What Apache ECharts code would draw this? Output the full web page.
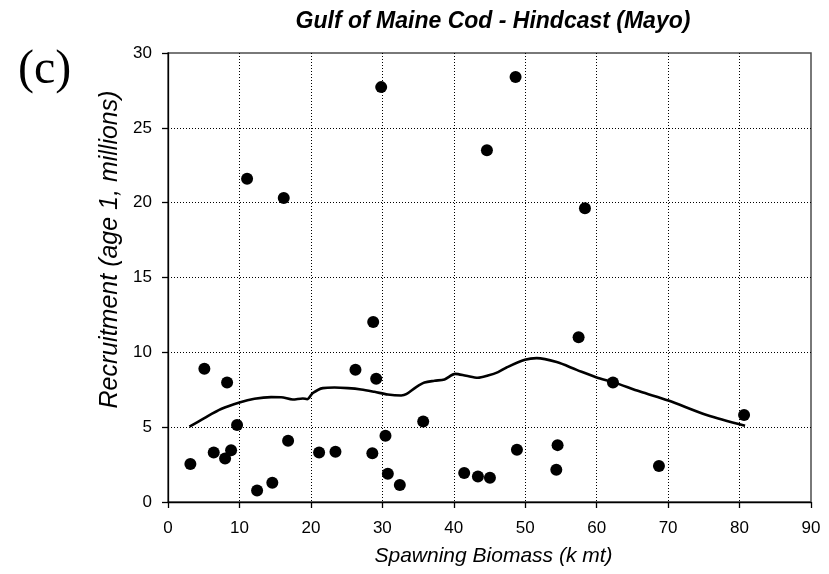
<!DOCTYPE html>
<html>
<head>
<meta charset="utf-8">
<title>Gulf of Maine Cod - Hindcast (Mayo)</title>
<script src="https://cdn.jsdelivr.net/npm/echarts@6/dist/echarts.min.js"></script>
<style>
  html, body { margin: 0; padding: 0; background: #fff; }
  #chart { width: 829px; height: 574px; }
</style>
</head>
<body>
<div id="chart"></div>
<script>
// observed stock / recruitment pairs
const biomass = [3.13, 5.09, 6.40, 7.99, 8.27, 8.83, 9.67, 11.07, 12.47, 14.60, 16.20, 16.81,
  21.15, 23.44, 26.24, 28.60, 28.72, 29.14, 29.84, 30.44, 30.77, 32.45, 35.72, 41.46,
  43.38, 44.64, 45.06, 48.65, 48.84, 54.35, 54.53, 57.47, 58.36, 62.28, 68.72, 80.63]
const recruits = [2.54, 8.90, 3.31, 2.91, 7.98, 3.45, 5.14, 21.60, 0.77, 1.29, 20.31, 4.09,
  3.31, 3.36, 8.83, 3.25, 12.02, 8.23, 27.72, 4.43, 1.89, 1.13, 5.38, 1.94,
  1.71, 23.50, 1.62, 28.39, 3.49, 2.16, 3.80, 11.01, 19.63, 7.98, 2.40, 5.81]

// smoothed fit
const fitX = [3.0, 5.09, 7.43, 10.0, 12.1, 14.43, 15.83, 17.46, 18.86, 19.47, 20.27, 21.67,
  23.3, 25.17, 27.03, 28.9, 30.77, 32.64, 33.34, 34.74, 35.9, 37.3, 38.7, 40.2, 41.74,
  43.37, 44.78, 46.2, 47.39, 49.96, 51.6, 54.4, 57.2, 60.0, 62.33, 66.07, 70.03, 75.4, 80.77]
const fitY = [5.03, 5.61, 6.21, 6.65, 6.90, 7.01, 7.00, 6.85, 6.92, 6.87, 7.28, 7.61,
  7.65, 7.61, 7.52, 7.36, 7.18, 7.12, 7.20, 7.68, 7.98, 8.10, 8.19, 8.56, 8.43,
  8.30, 8.45, 8.68, 8.99, 9.50, 9.61, 9.35, 8.83, 8.32, 8.01, 7.38, 6.78, 5.81, 5.09]

const xTicks = [0, 90, 10]  // min, max, step
const yTicks = [0, 30, 5]

const font = 'Liberation Sans, Arial, sans-serif'

const chart = echarts.init(document.getElementById('chart'))

const gridLine = {
  show: true,
  showMinLine: false,
  showMaxLine: false,
  lineStyle: { color: '#000', width: 1, type: [1, 2] }
}

const option = {
  animation: false,
  graphic: [
    {
      type: 'text',
      style: {
        text: '(c)', x: 18, y: 70,
        font: '48px "Liberation Serif", "Times New Roman", serif',
        fill: '#000', textVerticalAlign: 'middle'
      }
    },
    {
      type: 'text',
      style: {
        text: 'Gulf of Maine Cod - Hindcast (Mayo)', x: 493, y: 22,
        font: 'italic bold 23px ' + font,
        fill: '#000', textAlign: 'center', textVerticalAlign: 'middle'
      }
    }
  ],
  grid: {
    left: 168, right: 18, top: 53, bottom: 72,
    show: true, borderColor: '#4d4d4d', borderWidth: 1.5
  },
  xAxis: {
    type: 'value',
    min: xTicks[0], max: xTicks[1], interval: xTicks[2],
    name: 'Spawning Biomass (k mt)',
    nameLocation: 'middle',
    nameGap: 44,
    nameTextStyle: { fontFamily: font, fontSize: 21, fontStyle: 'italic', color: '#000', padding: [0, 0, 0, 8] },
    axisLine: { lineStyle: { color: '#000', width: 1.3 } },
    axisTick: { length: 6, lineStyle: { color: '#000', width: 1.3 } },
    axisLabel: { fontFamily: font, fontSize: 17, color: '#000', margin: 18 },
    splitLine: gridLine
  },
  yAxis: {
    type: 'value',
    min: yTicks[0], max: yTicks[1], interval: yTicks[2],
    name: 'Recruitment (age 1, millions)',
    nameLocation: 'middle',
    nameGap: 39,
    nameTextStyle: { fontFamily: font, fontSize: 25, fontStyle: 'italic', color: '#000', padding: [0, 0, 0, 56] },
    axisLine: { show: true, lineStyle: { color: '#000', width: 1.3 } },
    axisTick: { show: true, length: 6, lineStyle: { color: '#000', width: 1.3 } },
    axisLabel: { fontFamily: font, fontSize: 17, color: '#000', margin: 16 },
    splitLine: gridLine
  },
  series: [
    {
      type: 'line',
      data: fitX.map((x, i) => [x, fitY[i]]),
      showSymbol: false,
      smooth: 0.3,
      lineStyle: { color: '#000', width: 2.6 }
    },
    {
      type: 'scatter',
      data: biomass.map((x, i) => [x, recruits[i]]),
      symbol: 'circle',
      symbolSize: 12,
      itemStyle: { color: '#000', opacity: 1 }
    }
  ]
}

chart.setOption(option)
</script>
</body>
</html>
